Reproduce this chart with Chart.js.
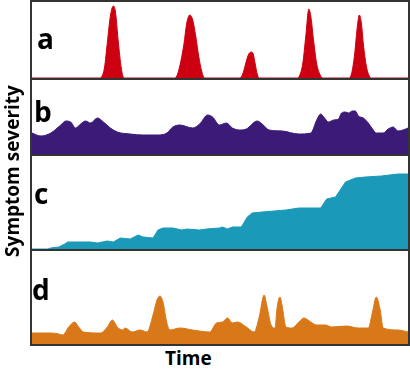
<!DOCTYPE html>
<html lang="en">
  <head>
    <meta charset="UTF-8" />
    <title>Symptom severity over time</title>
    <script src="https://cdn.jsdelivr.net/npm/chart.js"></script>
    <style>
      body {
        margin: 0;
        background: #ffffff;
        font-family: "Comic Sans MS", "Open Sans", sans-serif;
      }

      #frame {
        position: absolute;
        left: 30px;
        top: 0;
        width: 376px;
        height: 342px;
        border: 2px solid #333;
      }

      .panel {
        position: absolute;
        left: 32px;
        width: 376px;
      }

      .divider {
        position: absolute;
        left: 32px;
        width: 376px;
        height: 2px;
        background: #333;
      }

      .letter {
        position: absolute;
        font-size: 28px;
        font-weight: bold;
        line-height: 1;
        color: #000;
      }

      #xLabel {
        position: absolute;
        left: 165px;
        top: 349px;
        font-size: 19px;
        font-weight: bold;
        line-height: 1;
      }

      #yLabel {
        position: absolute;
        left: 12px;
        top: 171px;
        font-size: 19px;
        font-weight: bold;
        line-height: 1;
        white-space: nowrap;
        transform: translate(-50%, -50%) rotate(-90deg);
      }
    </style>
  </head>
  <body>
    <div id="frame"></div>
    <div class="panel" id="wrapA" style="top: 2px; height: 76px"><canvas id="chartA"></canvas></div>
    <div class="divider" style="top: 78px"></div>
    <div class="panel" id="wrapB" style="top: 80px; height: 74px"><canvas id="chartB"></canvas></div>
    <div class="divider" style="top: 154px"></div>
    <div class="panel" id="wrapC" style="top: 156px; height: 93px"><canvas id="chartC"></canvas></div>
    <div class="divider" style="top: 249px"></div>
    <div class="panel" id="wrapD" style="top: 251px; height: 93px"><canvas id="chartD"></canvas></div>

    <div class="letter" style="left: 37px; top: 24px">a</div>
    <div class="letter" style="left: 34px; top: 97px">b</div>
    <div class="letter" style="left: 34px; top: 179px">c</div>
    <div class="letter" style="left: 32px; top: 275px">d</div>

    <div id="xLabel">Time</div>
    <div id="yLabel">Symptom severity</div>

    <script>
      // time points and severity readings for each panel
      const aTime = [0, 68, 70, 73, 76, 79, 82, 84, 87, 90, 92, 94,
        143, 146, 149, 153, 156, 159, 162, 165, 168, 171, 174,
        209, 212, 215, 218, 221, 223, 225, 227, 229,
        267, 270, 273, 276, 279, 281, 284, 287, 290, 293,
        319, 322, 325, 328, 330, 332, 334, 337, 340, 342, 379];
      const aValues = [0, 0, 1, 10, 36, 62, 72, 67, 36, 10, 1, 0,
        0, 2, 12, 33, 55, 63, 58, 42, 22, 7, 0,
        0, 3, 13, 23, 26, 24, 14, 4, 0,
        0, 3, 15, 42, 69, 62, 36, 14, 4, 0,
        0, 4, 22, 52, 63, 55, 34, 12, 2, 0, 0];

      const bTime = [0, 9, 19, 29, 34, 39, 44, 49, 54, 59, 66, 72, 79, 86, 99, 112,
        126, 136, 142, 149, 162, 169, 177, 182, 189, 196, 202, 209, 216, 227, 232,
        239, 252, 269, 281, 287, 291, 294, 299, 304, 309, 312, 316, 319, 323, 326,
        329, 334, 339, 344, 347, 354, 359, 364, 369, 374, 379];
      const bValues = [21, 18, 21, 29, 33, 32, 26, 30, 33, 31, 36, 32, 26, 22, 20, 19,
        19, 21, 27, 29, 26, 30, 39, 37, 29, 31, 26, 24, 25, 33, 30,
        24, 23, 20, 21, 34, 40, 37, 32, 34, 35, 41, 42, 41, 43, 43,
        38, 36, 31, 24, 21, 21, 25, 27, 23, 24, 26];

      const cTime = [0, 16, 19, 27, 33, 36, 39, 59, 66, 76, 82, 89, 99, 107, 112, 122,
        127, 132, 142, 151, 156, 169, 176, 189, 192, 197, 202, 211, 217, 222, 232,
        256, 269, 291, 297, 306, 316, 326, 336, 352, 369, 379];
      const cValues = [0, 0, 1, 2, 5, 7, 7, 7, 6, 8, 7, 11, 10, 14, 12, 11,
        19, 21, 21, 19, 20, 19, 20, 21, 22, 20, 22, 22, 32, 36, 37,
        39, 41, 41, 50, 52, 67, 71, 72, 73, 75, 75];

      const dTime = [0, 19, 27, 31, 37, 43, 47, 52, 69, 76, 81, 86, 91, 94, 101, 109,
        116, 122, 126, 129, 132, 136, 139, 149, 162, 179, 186, 192, 197, 202, 207,
        216, 224, 229, 234, 237, 241, 245, 247, 250, 252, 256, 262, 269, 274, 281,
        287, 296, 302, 317, 329, 339, 343, 347, 351, 354, 369, 379];
      const dValues = [11, 11, 10, 9, 17, 22, 17, 12, 11, 17, 24, 17, 14, 16, 12, 14,
        12, 29, 44, 48, 42, 21, 14, 16, 14, 12, 21, 22, 26, 21, 22,
        17, 12, 27, 49, 37, 19, 16, 36, 47, 39, 17, 16, 22, 26, 22,
        19, 19, 17, 18, 16, 16, 31, 47, 34, 16, 14, 12];

      const timeMax = 379;

      function makePanel(id, times, values, color, yMax, tension) {
        new Chart(document.getElementById(id), {
          type: "line",
          data: {
            datasets: [
              {
                data: times.map((t, i) => ({ x: t, y: values[i] })),
                borderColor: color,
                backgroundColor: color,
                borderWidth: 1,
                fill: "origin",
                pointRadius: 0,
                tension: tension,
                cubicInterpolationMode: tension > 0 ? "monotone" : "default",
              },
            ],
          },
          options: {
            responsive: true,
            maintainAspectRatio: false,
            animation: false,
            layout: { padding: 0 },
            plugins: { legend: { display: false }, tooltip: { enabled: false } },
            scales: {
              x: { type: "linear", min: 0, max: timeMax, display: false },
              y: { min: 0, max: yMax, display: false },
            },
          },
        });
      }

      makePanel("chartA", aTime, aValues, "#cc0010", 76, 0.4);
      makePanel("chartB", bTime, bValues, "#3b1a78", 74, 0.4);
      makePanel("chartC", cTime, cValues, "#1a99b8", 93, 0);
      makePanel("chartD", dTime, dValues, "#d97818", 93, 0.4);
    </script>
  </body>
</html>
